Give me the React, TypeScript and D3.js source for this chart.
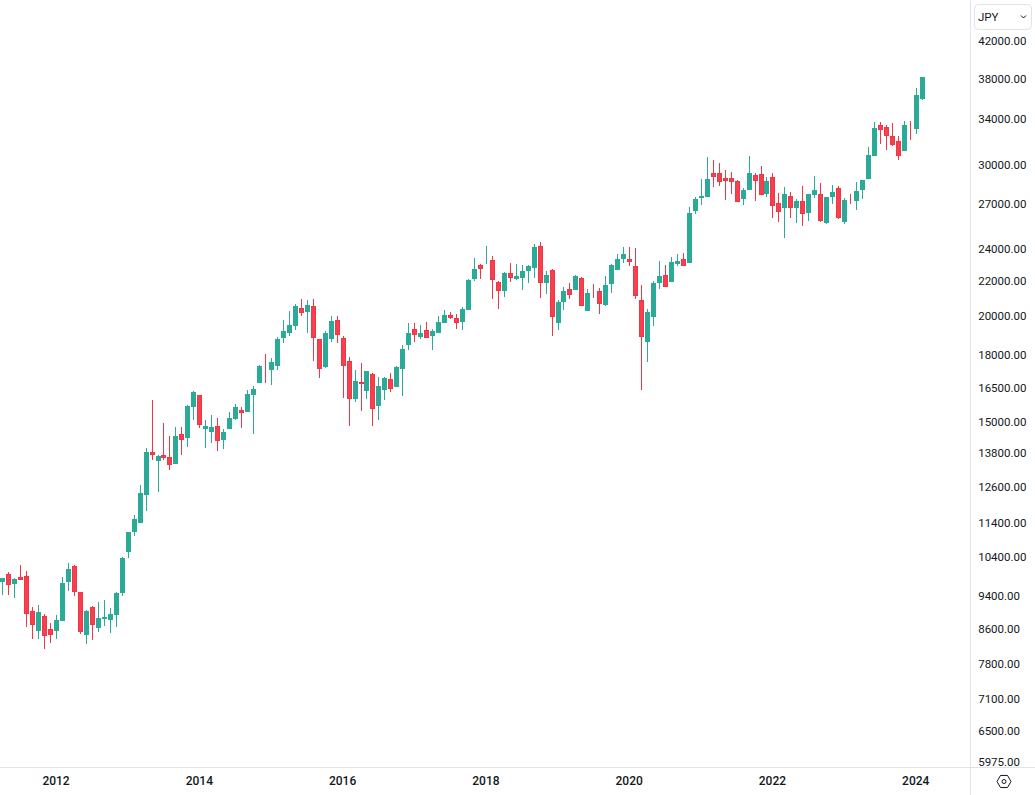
import React from "react";
import * as d3 from "d3";

// Monthly candles, Apr 2011 to Feb 2024
const startYear = 2011;
const startMonth = 3;
const opens = [9703,9916,9651,9836,9862,8970,8497,8850,8544,8497,8730,9703,10133,9444,8406,9069,8567,8778,8754,8874,9418,10525,11110,11385,12282,
13799,13466,13688,13614,13358,14489,14333,15588,16103,14686,14567,14806,14254,14686,15090,15461,15378,16103,
16635,17419,17230,17419,18792,19048,19413,20383,20162,20494,18741,17372,18741,19730,18792,17655,15929,16679,16277,17045,15631,16322,16816,16456,17278,18439,19255,18843,19203,18894,19048,19571,20000,19838,19623,20271,22047,22900,22962,23211,21868,21341,22408,22047,22108,22529,22714,24110,21810,22591,19571,20716,21458,21400,22108,20216,21517,21341,20549,21751,22591,23274,23274,22838,20828,18588,19892,21810,22288,21868,22962,23274,
23023,26504,27455,27530,29378,29378,28984,28984,28747,27380,28056,29220,29299,27755,29063,27085,26722,27605,26722,27231,26362,27680,27755,25658,27530,28209,25727,27455,27231,28056,28905,30764,33457,33276,32475,32036,31180,33457,33095,35897];
const highs = [9809,9969,9809,10161,9996,9069,9118,8898,8683,8874,9836,10216,10161,9444,8995,9093,9192,9241,9044,9444,10384,11110,11634,12620,13950,
15885,13688,14927,14411,14767,14767,15673,16277,16103,15048,15254,15131,14686,15378,15715,15588,16322,16500,
17466,17995,17801,18843,19730,20216,20605,20885,20828,20885,18741,19150,19946,19946,18894,17849,17230,17561,17183,17091,16908,16908,17091,17419,18439,19571,19571,19466,19623,19255,19946,20271,20162,20054,20438,22047,23338,22962,24110,23465,21927,22469,23023,22962,22900,22900,24240,24371,22529,22653,20828,21575,21810,22288,22168,21458,21751,21517,22228,22962,23592,24044,24044,23979,21693,20327,21927,23147,22900,23401,23592,23656,
26795,27530,28905,30680,30430,30185,29617,29457,28826,28209,30764,29378,29942,29063,29378,27829,28286,27904,27380,28363,27755,29141,28593,27530,28440,28363,27455,27755,28670,28826,31522,33729,33729,33457,33638,32475,33819,33819,36983,38102];
const lows = [9368,9368,9292,9756,8590,8316,8316,8093,8226,8316,8730,9469,9342,8429,8204,8293,8474,8613,8452,8590,9342,10356,10992,11385,11760,
13503,12382,13503,13142,13358,13688,13988,15048,14727,13950,14139,13836,13912,14686,15048,14727,15378,14489,
16635,16635,16545,17230,18538,18894,19203,19946,19048,17655,16862,17325,18588,18538,15972,14806,15800,15419,15929,14806,15048,15885,16233,16456,16059,18190,18588,18741,18792,18190,19048,19571,19784,19255,19203,20271,21927,22047,22962,20885,20327,20999,21868,21987,21400,21810,22108,20942,21170,18894,19203,20271,20885,21400,20494,20216,20942,20054,20494,21227,22591,23023,22838,20885,16322,17608,19413,21458,21575,21868,22838,22838,
23023,26292,26940,27530,28286,28363,27306,27755,27158,26940,28056,27231,27680,27530,26008,25727,24637,26008,25658,25451,25796,27455,25727,25589,27013,25937,25589,27013,26577,27380,28905,30764,31779,31266,31608,30430,31180,32124,32651,35799];
const closes = [9809,9625,9782,9756,8898,8637,8946,8384,8406,8754,9677,10051,9444,8474,8970,8637,8802,8826,8898,9418,10356,11110,11509,12349,13799,
13688,13651,13577,13322,14411,14254,15631,16233,14847,14806,14767,14215,14567,15131,15588,15337,16146,16366,
17419,17372,17608,18741,19150,19466,20494,20108,20549,18792,17278,19048,19676,18945,17419,15929,16724,16590,17183,15504,16500,16862,16366,17372,18240,19048,18945,19048,18792,19150,19623,20000,19838,19571,20327,21987,22653,22653,23023,21987,21341,22408,22108,22228,22529,22838,24044,21810,22288,19892,20716,21341,21113,22228,20494,21227,21458,20605,21693,22900,23274,23592,23085,21056,18843,20162,21810,22228,21575,23085,23147,22838,
26362,27380,27605,28905,29063,28670,28747,28670,27158,28056,29378,28747,27680,28747,26867,26433,27755,26722,27231,26292,27755,28056,25796,27530,27904,26008,27306,27380,27979,28826,30847,33186,33005,32475,31694,30764,33457,33367,36289,38102];

// The axis prints rounded prices; these are the unrounded levels its labels sit at.
const priceLevels = [42000,37960,34000,30020,27000,23914,21927,19946,17947,16410,14967,13762,12552,11385,10384,9342,8544,7770,7067,6481,5959];
const priceLabels = ["42000.00","38000.00","34000.00","30000.00","27000.00","24000.00","22000.00","20000.00","18000.00","16500.00","15000.00","13800.00","12600.00","11400.00","10400.00","9400.00","8600.00","7800.00","7100.00","6500.00","5975.00"];
const yearTicks = [2012,2014,2016,2018,2020,2022,2024];
const currency = "JPY";

const WIDTH = 1035;
const HEIGHT = 795;
const FONT = "Roboto, sans-serif";
const GREEN = "#2bab97";
const RED = "#f23645";
const REDFILL = "#f7404f";
const GRID = "#e0e3eb";
const INK = "#131722";

export default function App() {
  const x = d3.scaleLinear().domain([0, 154]).range([2.3, 921.7]);
  const y = d3.scaleLog().domain([42000, 5975]).range([41, 761]);
  const axisX = 970.5;
  const axisY = 767.5;
  const hex = d3.range(6).map((k) => {
    const a = (Math.PI / 3) * k;
    return [1004 + 7 * Math.cos(a), 781.5 + 7 * Math.sin(a)] as [number, number];
  });
  return (
    <svg
      width={WIDTH}
      height={HEIGHT}
      viewBox={`0 0 ${WIDTH} ${HEIGHT}`}
      style={{ position: "absolute", left: 0, top: 0, background: "#fff", fontFamily: FONT }}
    >
      <g shapeRendering="crispEdges">
        {opens.map((o, i) => {
          const c = closes[i];
          const up = c >= o;
          const cx = Math.round(x(i));
          const top = Math.round(y(Math.max(o, c)));
          const bot = Math.round(y(Math.min(o, c)));
          return (
            <g key={i}>
              <line
                x1={cx + 0.5}
                x2={cx + 0.5}
                y1={Math.round(y(highs[i]))}
                y2={Math.round(y(lows[i]))}
                stroke={up ? GREEN : RED}
              />
              <rect
                x={cx - 1.5}
                y={top + 0.5}
                width={4}
                height={Math.max(bot - top - 1, 0)}
                fill={up ? GREEN : REDFILL}
                stroke={up ? GREEN : RED}
              />
            </g>
          );
        })}
        <line x1={axisX} x2={axisX} y1={0} y2={HEIGHT} stroke={GRID} />
        <line x1={0} x2={WIDTH} y1={axisY} y2={axisY} stroke={GRID} />
      </g>
      <rect x={974.5} y={4.5} width={57} height={25} rx={4} fill="#fff" stroke={GRID} />
      <text x={978} y={21} fontSize={11.5} fill={INK}>
        {currency}
      </text>
      <path d="M1021 15.5 L1023.5 18 L1026 15.5" fill="none" stroke={INK} strokeWidth={1} />
      {priceLevels.map((p, i) => (
        <text key={p} x={978.2} y={y(p)} dy={4.2} fontSize={11.5} fill={INK}>
          {priceLabels[i]}
        </text>
      ))}
      {yearTicks.map((yr) => (
        <text
          key={yr}
          x={x((yr - startYear) * 12 - startMonth)}
          y={785}
          textAnchor="middle"
          fontSize={12}
          fontWeight={500}
          fill={INK}
        >
          {yr}
        </text>
      ))}
      <path d={(d3.line()(hex) as string) + "Z"} fill="none" stroke={INK} strokeWidth={1} />
      <circle cx={1004} cy={781.5} r={2} fill="none" stroke={INK} strokeWidth={1} />
    </svg>
  );
}
